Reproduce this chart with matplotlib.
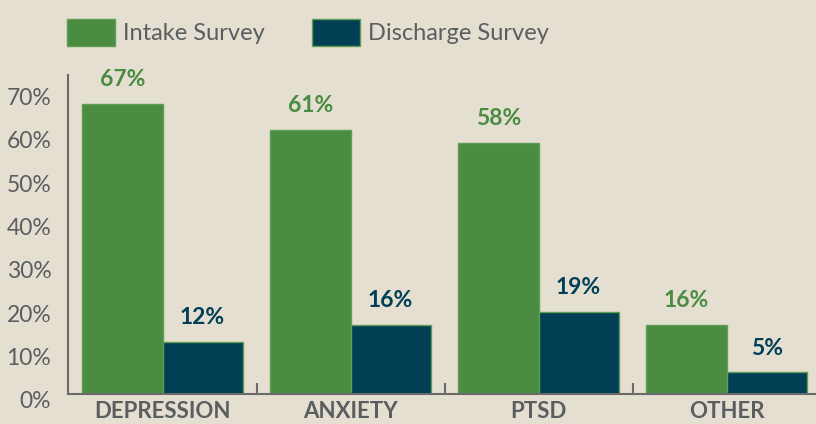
import matplotlib
matplotlib.use("Agg")
import matplotlib.pyplot as plt
import matplotlib.transforms as mtransforms
from matplotlib.patches import Patch
import numpy as np

categories = ["DEPRESSION", "ANXIETY", "PTSD", "OTHER"]
intake = [67, 61, 58, 16]
discharge = [12, 16, 19, 5]
series_names = ["Intake Survey", "Discharge Survey"]
yticks = [0, 10, 20, 30, 40, 50, 60, 70]
ytick_labels = ["0%", "10%", "20%", "30%", "40%", "50%", "60%", "70%"]

BG = "#e4dfd0"
GREEN = "#4a8c41"
NAVY = "#003f54"
EDGE = "#5f9c55"
GRAY = "#5b5e60"
AXC = "#6a6a6a"

plt.rcParams["font.family"] = ["Lato", "DejaVu Sans"]

fig = plt.figure(figsize=(8.16, 4.24), dpi=100, facecolor=BG)
ax = fig.add_axes([68/816, 1-394/424, 1-68/816, (394-75)/424], facecolor=BG)

x = np.arange(len(categories))
w = 0.426
ax.bar(x - w/2, intake, width=w, color=GREEN, edgecolor=EDGE, linewidth=1.0, label=series_names[0])
ax.bar(x + w/2, discharge, width=w, color=NAVY, edgecolor=EDGE, linewidth=1.0, label=series_names[1])

off = mtransforms.offset_copy(ax.transData, fig=fig, x=0, y=24, units="dots")
for xi, v in zip(x, intake):
    ax.text(xi - w/2, v, f"{v}%", transform=off, ha="center", va="center",
            color=GREEN, fontsize=16.5, fontweight="bold")
for xi, v in zip(x, discharge):
    ax.text(xi + w/2, v, f"{v}%", transform=off, ha="center", va="center",
            color=NAVY, fontsize=16.5, fontweight="bold")

ax.set_xlim(-0.5027, 3.476)
ax.set_ylim(0, 73.6)

for s in ["top", "right"]:
    ax.spines[s].set_visible(False)
for s in ["left", "bottom"]:
    ax.spines[s].set_color(AXC)
    ax.spines[s].set_linewidth(1.5)
ax.spines["bottom"].set_zorder(5)

# y labels
ax.set_yticks(yticks)
ax.set_yticklabels(ytick_labels)
ax.tick_params(axis="y", length=0, pad=12, labelsize=16.5, labelcolor=GRAY)
ylab_off = mtransforms.ScaledTranslation(0, -6/100, fig.dpi_scale_trans)
for lab in ax.get_yticklabels():
    lab.set_transform(lab.get_transform() + ylab_off)

# x: minor ticks between groups, major labels at centers
ax.set_xticks(x)
ax.set_xticklabels(categories)
ax.tick_params(axis="x", which="major", length=0, pad=5, labelsize=16, labelcolor=GRAY)
for lab in ax.get_xticklabels():
    lab.set_fontweight("bold")
ax.set_xticks([0.5, 1.5, 2.5], minor=True)
ax.tick_params(axis="x", which="minor", direction="in", length=8, width=1.5, color=AXC)

handles = [Patch(facecolor=GREEN, edgecolor=EDGE, linewidth=1.0),
           Patch(facecolor=NAVY, edgecolor=EDGE, linewidth=1.0)]
leg = fig.legend(handles, series_names, loc="upper left", bbox_to_anchor=(67/816, 1-19/424),
                 ncol=2, frameon=False, fontsize=17, handlelength=2.03, handleheight=1.4,
                 handletextpad=0.34, columnspacing=2.0, borderaxespad=0, borderpad=0)
for t in leg.get_texts():
    t.set_color(GRAY)

fig.savefig("out.png", dpi=100, facecolor=BG)
